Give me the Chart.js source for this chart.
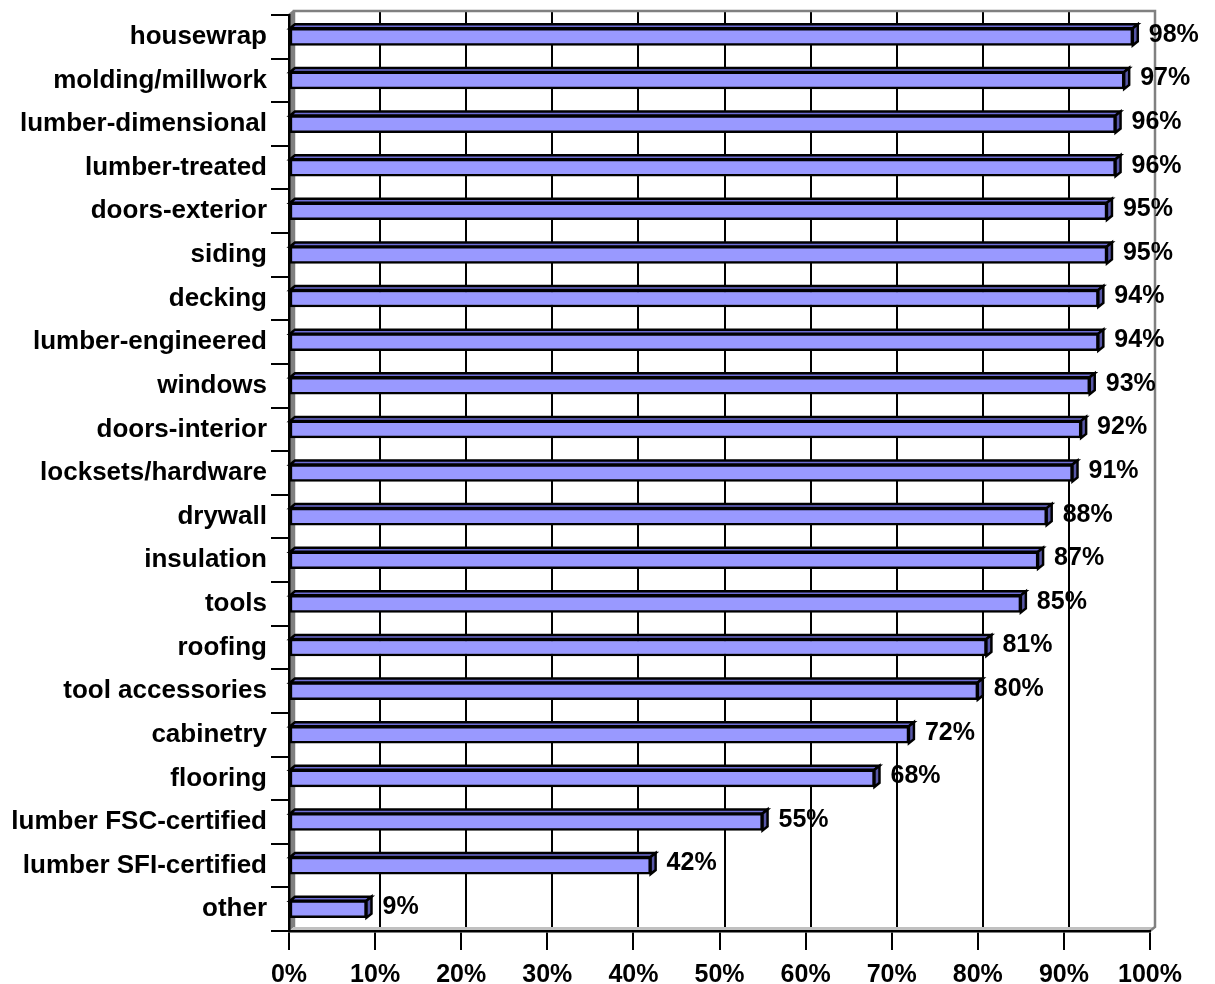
<!DOCTYPE html>
<html>
<head>
<meta charset="utf-8">
<title>Products purchased</title>
<script src="https://cdn.jsdelivr.net/npm/chart.js@4.4.1/dist/chart.umd.min.js"></script>
<style>
  html, body { margin: 0; padding: 0; background: #ffffff; }
  canvas { display: block; }
</style>
</head>
<body>
<canvas id="chart" width="1215" height="984"></canvas>
<script>
// Product categories, top to bottom
const categories = [
  'housewrap', 'molding/millwork', 'lumber-dimensional', 'lumber-treated',
  'doors-exterior', 'siding', 'decking', 'lumber-engineered', 'windows',
  'doors-interior', 'locksets/hardware', 'drywall', 'insulation', 'tools',
  'roofing', 'tool accessories', 'cabinetry', 'flooring',
  'lumber FSC-certified', 'lumber SFI-certified', 'other'
];

// Share of respondents (%)
const shares = [98, 97, 96, 96, 95, 95, 94, 94, 93, 92, 91, 88, 87, 85, 81, 80, 72, 68, 55, 42, 9];

// Horizontal axis tick labels
const xTickLabels = ['0%', '10%', '20%', '30%', '40%', '50%', '60%', '70%', '80%', '90%', '100%'];

const FONT = '"Liberation Sans", Arial, Helvetica, sans-serif';
const DEPTH_X = 5;
const DEPTH_Y = 4;

// Back wall, side wall, floor and offset gridlines of the 3-D plot box
const wallsPlugin = {
  id: 'walls',
  beforeDraw(chart) {
    const { ctx, chartArea: a, scales } = chart;
    const xs = scales.x;
    ctx.save();
    // back wall
    ctx.fillStyle = '#ffffff';
    ctx.fillRect(a.left + DEPTH_X, a.top - DEPTH_Y, a.right - a.left, a.bottom - a.top);
    // gridlines on the back wall
    ctx.strokeStyle = '#000000';
    ctx.lineWidth = 2;
    xs.ticks.forEach(t => {
      if (t.value <= xs.min || t.value >= xs.max) return;
      const px = Math.round(xs.getPixelForValue(t.value)) + DEPTH_X;
      ctx.beginPath();
      ctx.moveTo(px, a.top - DEPTH_Y);
      ctx.lineTo(px, a.bottom - DEPTH_Y);
      ctx.stroke();
    });
    // left side wall
    ctx.fillStyle = '#808080';
    ctx.beginPath();
    ctx.moveTo(a.left, a.top);
    ctx.lineTo(a.left + DEPTH_X, a.top - DEPTH_Y);
    ctx.lineTo(a.left + DEPTH_X, a.bottom - DEPTH_Y);
    ctx.lineTo(a.left, a.bottom);
    ctx.closePath();
    ctx.fill();
    // floor
    ctx.fillStyle = '#c0c0c0';
    ctx.beginPath();
    ctx.moveTo(a.left, a.bottom);
    ctx.lineTo(a.left + DEPTH_X, a.bottom - DEPTH_Y);
    ctx.lineTo(a.right + DEPTH_X, a.bottom - DEPTH_Y);
    ctx.lineTo(a.right, a.bottom);
    ctx.closePath();
    ctx.fill();
    // back wall outline
    ctx.strokeStyle = '#808080';
    ctx.lineWidth = 2.5;
    ctx.beginPath();
    ctx.moveTo(a.left + DEPTH_X, a.bottom - DEPTH_Y);
    ctx.lineTo(a.left + DEPTH_X, a.top - DEPTH_Y);
    ctx.lineTo(a.right + DEPTH_X, a.top - DEPTH_Y);
    ctx.lineTo(a.right + DEPTH_X, a.bottom - DEPTH_Y);
    ctx.lineTo(a.right, a.bottom);
    ctx.stroke();
    ctx.beginPath();
    ctx.moveTo(a.left, a.top);
    ctx.lineTo(a.left + DEPTH_X, a.top - DEPTH_Y);
    ctx.stroke();
    ctx.restore();
  }
};

// Top and end faces of each bar, plus the value labels
const barFacesPlugin = {
  id: 'barFaces',
  afterDatasetsDraw(chart) {
    const { ctx } = chart;
    const meta = chart.getDatasetMeta(0);
    const data = chart.data.datasets[0].data;
    ctx.save();
    ctx.lineJoin = 'miter';
    meta.data.forEach((bar, i) => {
      const p = bar.getProps(['x', 'y', 'base', 'height'], true);
      const top = p.y - p.height / 2;
      const bottom = p.y + p.height / 2;
      const x0 = p.base, x1 = p.x;
      ctx.lineWidth = 2.5;
      ctx.strokeStyle = '#000000';
      // top face
      ctx.fillStyle = '#6e6ed6';
      ctx.beginPath();
      ctx.moveTo(x0, top);
      ctx.lineTo(x0 + DEPTH_X, top - DEPTH_Y);
      ctx.lineTo(x1 + DEPTH_X, top - DEPTH_Y);
      ctx.lineTo(x1, top);
      ctx.closePath();
      ctx.fill();
      ctx.stroke();
      // end face
      ctx.fillStyle = '#5858a8';
      ctx.beginPath();
      ctx.moveTo(x1, top);
      ctx.lineTo(x1 + DEPTH_X, top - DEPTH_Y);
      ctx.lineTo(x1 + DEPTH_X, bottom - DEPTH_Y);
      ctx.lineTo(x1, bottom);
      ctx.closePath();
      ctx.fill();
      ctx.stroke();
      // value label
      ctx.fillStyle = '#000000';
      ctx.font = 'bold 25px ' + FONT;
      ctx.textAlign = 'left';
      ctx.textBaseline = 'middle';
      ctx.fillText(data[i] + '%', x1 + DEPTH_X + 11, p.y - 2);
    });
    ctx.restore();
  }
};

new Chart(document.getElementById('chart'), {
  type: 'bar',
  data: {
    labels: categories,
    datasets: [{
      data: shares,
      backgroundColor: '#9999ff',
      borderColor: '#000000',
      borderWidth: 2.5,
      borderSkipped: false,
      barThickness: 17
    }]
  },
  options: {
    indexAxis: 'y',
    responsive: false,
    animation: false,
    events: [],
    layout: { padding: { left: 0, top: 15, right: 65, bottom: 0 } },
    plugins: {
      legend: { display: false },
      tooltip: { enabled: false }
    },
    scales: {
      x: {
        type: 'linear',
        min: 0,
        max: 100,
        afterFit(scale) { scale.height = 53; },
        grid: {
          drawOnChartArea: false,
          drawTicks: true,
          tickLength: 19,
          color: '#000000',
          lineWidth: 2
        },
        border: { color: '#000000', width: 2.5 },
        ticks: {
          stepSize: 10,
          color: '#000000',
          padding: 10,
          maxRotation: 0,
          font: { family: FONT, size: 25, weight: 'bold' },
          callback: (v, i) => xTickLabels[i]
        }
      },
      y: {
        type: 'category',
        afterFit(scale) {
          scale.width = 289;
          // category labels sit between the ticks, so no overhang above or below
          scale.paddingTop = 0;
          scale.paddingBottom = 0;
        },
        grid: {
          offset: true,
          drawOnChartArea: false,
          drawTicks: true,
          tickLength: 18,
          color: '#000000',
          lineWidth: 2
        },
        border: { color: '#000000', width: 2.5 },
        ticks: {
          color: '#000000',
          padding: 4,
          autoSkip: false,
          font: { family: FONT, size: 26, weight: 'bold' }
        }
      }
    }
  },
  plugins: [wallsPlugin, barFacesPlugin]
});
</script>
</body>
</html>
